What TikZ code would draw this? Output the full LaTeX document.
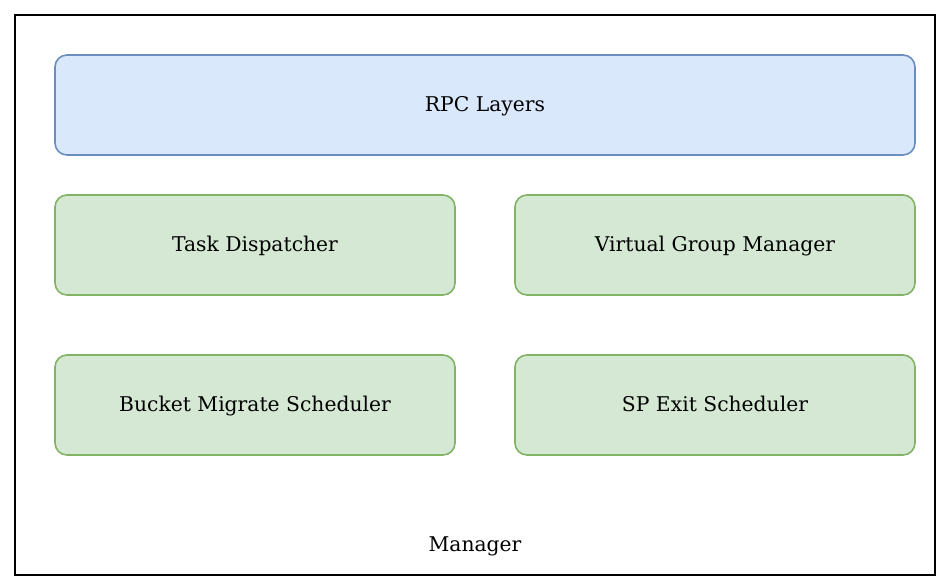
\documentclass[tikz,border=0pt]{standalone}
\usepackage{fontspec}
\setmainfont{DejaVu Serif}
\usetikzlibrary{positioning}

\definecolor{bluefill}{HTML}{DAE8FC}
\definecolor{blueline}{HTML}{6C8EBF}
\definecolor{greenfill}{HTML}{D5E8D4}
\definecolor{greenline}{HTML}{82B366}

\tikzset{
  label font/.style={font=\fontsize{20.3}{24}\selectfont, text height=16pt, text depth=3pt},
  layerbox/.style={draw=blueline, fill=bluefill, line width=1.6, rounded corners=12pt,
    minimum width=860pt, minimum height=100pt, label font},
  modbox/.style={draw=greenline, fill=greenfill, line width=1.6, rounded corners=12pt,
    minimum width=400pt, minimum height=100pt, label font}
}

\begin{document}
\begin{tikzpicture}[x=1pt,y=-1pt]
\useasboundingbox (0,0) rectangle (944,586);
\draw[line width=2] (15,15) rectangle (935,575);
\node[layerbox] (rpc) at (485,105) {RPC Layers};
\node[modbox] (task) at (255,245) {Task Dispatcher};
\node[modbox] (vgm) at (715,245) {Virtual Group Manager};
\node[modbox] (bucket) at (255,405) {Bucket Migrate Scheduler};
\node[modbox] (spexit) at (715,405) {SP Exit Scheduler};
\node[label font] (manager) at (475,545) {Manager};
\end{tikzpicture}
\end{document}
